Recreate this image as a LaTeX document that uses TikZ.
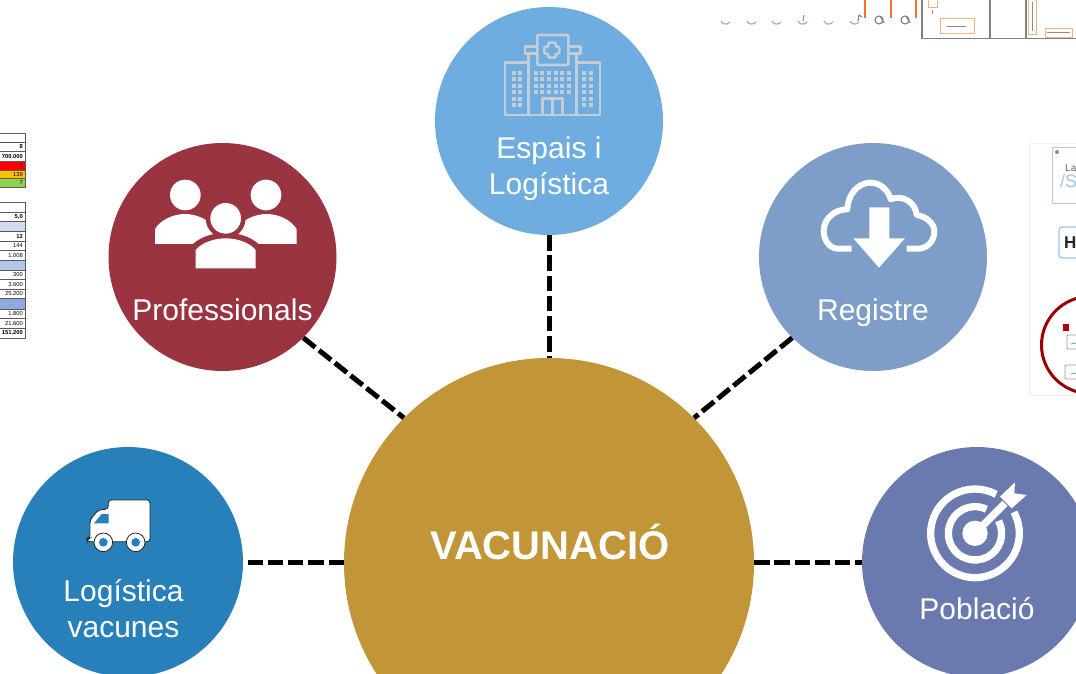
\documentclass[tikz,border=0pt]{standalone}
\usepackage{fontspec}
\setmainfont{Liberation Sans}
\definecolor{cVac}{HTML}{C29539}
\definecolor{cEsp}{HTML}{6FACDF}
\definecolor{cPro}{HTML}{9B3441}
\definecolor{cReg}{HTML}{7E9DC8}
\definecolor{cLog}{HTML}{2880BA}
\definecolor{cPob}{HTML}{6A7AAE}
\definecolor{cHosp}{HTML}{C4CDD6}
\definecolor{cBand}{HTML}{B4C6E7}
\definecolor{cBandD}{HTML}{8EA9DB}
\definecolor{cOr}{HTML}{F4B183}
\definecolor{cAmb}{HTML}{FFC000}
\definecolor{cGrn}{HTML}{92D050}
\tikzset{
  hub/.style={circle,inner sep=0pt,minimum size=#1,fill=cVac},
  disc/.style n args={2}{circle,inner sep=0pt,minimum size=#1,fill=#2},
  lab/.style={text=white,font=\fontsize{30}{36}\selectfont,align=center,inner sep=0pt},
  link/.style={line width=5pt,black,dash pattern=on 15.3pt off 4.9pt},
  hline/.style={cHosp,line width=2.6pt,line join=round},
  hdot/.style={fill=cHosp,draw=none},
  cell/.style={draw=black!65,line width=.8pt},
  num/.style={font=\fontsize{5.8}{6}\selectfont,anchor=east,inner sep=0pt,text=black},
  bnum/.style={font=\fontsize{5.8}{6}\selectfont\bfseries,anchor=east,inner sep=0pt,text=black},
  tiny/.style={line width=.9pt,black!45},
  orbox/.style={draw=cOr,line width=1pt},
  icn/.style={line width=1.1pt,black!50},
}
\begin{document}
\begin{tikzpicture}[x=1pt,y=-1pt]
\useasboundingbox (0,0) rectangle (1076,674);
\clip (0,0) rectangle (1076,674);
\fill[white] (0,0) rectangle (1076,674);

% --- left table fragments
\fill[red] (0,161.5) rectangle (25,170);
\fill[cAmb] (0,170) rectangle (25,178.5);
\fill[cGrn] (0,178.5) rectangle (25,187.5);
\foreach \a/\b in {133/142.5,142.5/151.5,151.5/161.5,161.5/170,170/178.5,178.5/187.5}
  \draw[cell] (-2,\a) rectangle (25,\b);
\fill[cBand!60] (0,221.5) rectangle (25,231.5);
\fill[cBand] (0,260) rectangle (25,270.5);
\fill[cBandD] (0,298.5) rectangle (25,309.5);
\foreach \a/\b in {202/212,212/221.5,221.5/231.5,231.5/241,241/250.5,250.5/260,260/270.5,270.5/279.5,279.5/289,289/298.5,298.5/309.5,309.5/318.5,318.5/328,328/338}
  \draw[cell] (-2,\a) rectangle (25,\b);
\node[bnum] (t1) at (23,147) {8};
\node[bnum] (t2) at (23,156.5) {700.000};
\node[num] (t3) at (23,166) {1};
\node[num] (t4) at (23,174.5) {139};
\node[num] (t5) at (23,183) {7};
\node[bnum] (t6) at (23,216.8) {5,0};
\node[bnum] (t7) at (23,236.3) {12};
\node[num] (t8) at (23,245.8) {144};
\node[num] (t9) at (23,255.3) {1.008};
\node[num] (t10) at (23,275) {300};
\node[num] (t11) at (23,284.3) {3.600};
\node[num] (t12) at (23,293.8) {25.200};
\node[num] (t13) at (23,314) {1.800};
\node[num] (t14) at (23,323.3) {21.600};
\node[bnum] (t15) at (23,333) {151.200};

% --- top-right plan fragment
\draw[black!50,line width=1.5pt] (922,-3) -- (922,38.5) -- (1078,38.5);
\draw[black!50,line width=1.4pt] (990,-3) -- (990,38.5) (1026,-3) -- (1026,38.5);
\foreach \x in {865,891,916} \draw[orange!70!red!85,line width=1.2pt] (\x,-2) -- (\x,18);
\draw[orbox] (940,19) rectangle (974,34);
\draw[orbox] (928,-2) rectangle (937,8);
\draw[orbox] (1028,-2) rectangle (1036,35);
\draw[orbox] (1045,29) rectangle (1072,38);
\draw[tiny] (947,26.5) -- (966,26.5);
\draw[tiny] (1047,32.5) -- (1070,32.5);
\draw[tiny] (1032,2) -- (1032,31);
\draw[tiny] (932.5,10) -- (932.5,14);
\foreach \x in {725,751,776,802,828,854}
  \draw[icn,black!35] (\x-4,21) .. controls (\x-2,25) and (\x+2,25) .. (\x+5,22);
\draw[green!70!black!70,line width=1.1pt] (803,21) -- (804,15);
\draw[icn] (858,21) -- (859,15) -- (862,17);
\foreach \x in {879,905} {
  \draw[icn] (\x,20) circle[radius=4];
  \draw[icn] (\x+1,16) -- (\x+5,23);
}

% --- right screenshot fragment
\draw[black!6,line width=.7pt] (1078,143) -- (1029,143) -- (1029,395) -- (1078,395);
\draw[black!30!blue!25,line width=.8pt] (1078,147) -- (1052,147) -- (1052,203) -- (1078,203);
\fill[black!45] (1057,152) circle[radius=2];
\node[anchor=west,inner sep=0pt,text=black!60,font=\fontsize{10}{10}\selectfont] (sLa) at (1065,168) {La};
\node[anchor=west,inner sep=0pt,text=cEsp!70,font=\fontsize{18}{18}\selectfont] (sSa) at (1060,181) {/Sa};
\draw[cEsp!70,line width=1.2pt,rounded corners=3pt] (1082,227) -- (1059,227) -- (1059,258) -- (1082,258);
\node[anchor=west,inner sep=0pt,text=black!85,font=\fontsize{17}{17}\selectfont\bfseries] (sHo) at (1064,242.5) {HO};
\draw[red!60!black,line width=3pt] (1090,345) circle[radius=48.5];
\fill[red!70!black] (1063,324) rectangle (1069,331);
\draw[black!40,line width=.8pt,rounded corners=1pt] (1080,335) -- (1067,335) -- (1067,349) -- (1080,349);
\draw[black!40,line width=.8pt,rounded corners=1pt] (1080,365) -- (1065,365) -- (1065,379) -- (1080,379);
\draw[green!50!black!60,line width=.8pt] (1071,344) -- (1076,343) (1071,374) -- (1076,373);

% --- circles
\node[hub=410pt] (vac) at (549,563) {};
\node[disc={228pt}{cEsp}] (esp) at (549,121) {};
\node[disc={228pt}{cPro}] (pro) at (222.5,257) {};
\node[disc={228pt}{cReg}] (reg) at (873,257) {};
\node[disc={230pt}{cLog}] (log) at (128,562) {};
\node[disc={230pt}{cPob}] (pob) at (977,562) {};

% --- connectors
\draw[link] (esp.south) -- (esp.south |- vac.north);
\draw[link] (pro.-45) -- (vac.135);
\draw[link] (reg.-135) -- (vac.45);
\draw[link] ([xshift=4.5pt]log.east) -- (log.east -| vac.west);
\draw[link] (pob.west -| vac.east) -- (pob.west);

% --- labels
\node[lab] (lesp) at (549,169) {Espais i\\Logística};
\node[lab] (lpro) at (222.5,310) {Professionals};
\node[lab] (lreg) at (873,312.5) {Registre};
\node[lab] (llog) at (123.5,608.5) {Logística\\vacunes};
\node[lab] (lpob) at (977,608.5) {Població};
\node[text=white,inner sep=0pt,font=\fontsize{40}{44}\selectfont\bfseries] (lvac) at (550,541.5) {VACUNACIÓ};

% --- hospital icon
\begin{scope}[shift={(490,20)},x=.3333pt,y=-.3333pt]
  \draw[hline] (112,127) -- (45,127) -- (45,285) -- (330,285) -- (330,127) -- (262,127);
  \draw[hline] (115,100) -- (115,285) (259,100) -- (259,285);
  \draw[hline,rounded corners=1pt] (142,45) rectangle (235,135);
  \draw[hline] (140,80) -- (105,80) -- (105,100) -- (140,100);
  \draw[hline] (237,80) -- (272,80) -- (272,100) -- (237,100);
  \draw[hline,rounded corners=1pt] (175,68) -- (197,68) -- (197,80) -- (208,80) -- (208,101) -- (197,101) -- (197,113) -- (175,113) -- (175,101) -- (163,101) -- (163,80) -- (175,80) -- cycle;
  \draw[hline] (157,285) -- (157,235) -- (218,235) -- (218,285) (187,235) -- (187,285);
  \foreach \x in {137,157,177,197,217,237} \foreach \y in {158,178,197,217}
    \fill[hdot] (\x-6,\y-6) rectangle (\x+6,\y+6);
  \foreach \x in {72,90,283,303} \foreach \y in {158,178,197,217,236,255}
    \fill[hdot] (\x-6,\y-6) rectangle (\x+6,\y+6);
\end{scope}

% --- people icon
\begin{scope}[shift={(140,170)},x=.3333pt,y=-.3333pt]
  \fill[white] (136,75) circle[radius=46];
  \fill[white] (378,75) circle[radius=46];
  \fill[white] (45,222) -- (45,178) .. controls (60,150) and (100,132) .. (135,132) .. controls (170,132) and (210,150) .. (226,178) -- (226,222) -- cycle;
  \fill[white] (290,222) -- (290,178) .. controls (305,150) and (345,132) .. (380,132) .. controls (415,132) and (455,150) .. (470,178) -- (470,222) -- cycle;
  \fill[cPro] (257,145) circle[radius=60];
  \fill[cPro] (150,300) -- (150,232) .. controls (170,205) and (215,188) .. (257,188) .. controls (300,188) and (345,205) .. (364,232) -- (364,300) -- cycle;
  \fill[white] (257,145) circle[radius=46];
  \fill[white] (167,295) -- (167,240) .. controls (185,218) and (222,205) .. (257,205) .. controls (292,205) and (330,218) .. (347,240) -- (347,295) -- cycle;
\end{scope}

% --- cloud icon
\begin{scope}[shift={(810,170)},x=.3333pt,y=-.3333pt]
  \draw[white,line width=6pt,line join=round] (125,236) -- (85,236)
    .. controls (58,236) and (41,210) .. (41,182)
    .. controls (41,150) and (70,118) .. (112,118)
    .. controls (112,75) and (145,38) .. (180,38)
    .. controls (212,38) and (235,62) .. (242,88)
    .. controls (280,72) and (318,100) .. (320,135)
    .. controls (350,140) and (373,160) .. (373,185)
    .. controls (373,215) and (350,236) .. (325,236) -- (290,236);
  \fill[white] (178,112) -- (238,112) -- (238,205) -- (285,205) -- (207,293) -- (130,205) -- (178,205) -- cycle;
\end{scope}

% --- truck icon
\begin{scope}[shift={(75,490)},x=.3333pt,y=-.3333pt]
  \filldraw[fill=white,draw=black!85,line width=.8pt,rounded corners=3pt]
    (100,30) -- (225,30) -- (225,155) -- (100,155) -- (37,155) -- (37,146) -- (45,144) -- (45,90) -- (70,60) -- (100,57) -- cycle;
  \filldraw[fill=white,draw=black!85,line width=.8pt] (85,157) circle[radius=28];
  \filldraw[fill=white,draw=black!85,line width=.8pt] (182,157) circle[radius=28];
  \fill[cLog] (85,157) circle[radius=13];
  \fill[cLog] (182,157) circle[radius=13];
  \fill[cLog] (57,100) -- (80,72) -- (101,72) -- (101,100) -- cycle;
\end{scope}

% --- target icon
\begin{scope}[shift={(915,475)},x=.3333pt,y=-.3333pt]
  \draw[white,line width=7.3pt] (180,175) ++(-28.6:133) arc[start angle=-28.6,end angle=298.5,radius=133];
  \draw[white,line width=7.3pt] (180,175) ++(-28:80) arc[start angle=-28,end angle=295.4,radius=80];
  \fill[white] (180,175) circle[radius=38];
  \draw[white,line width=7.5pt] (180,175) -- (270,85);
  \fill[white] (255,65) -- (300,22) -- (298,55) -- (335,60) -- (290,100) -- cycle;
\end{scope}
\end{tikzpicture}
\end{document}
